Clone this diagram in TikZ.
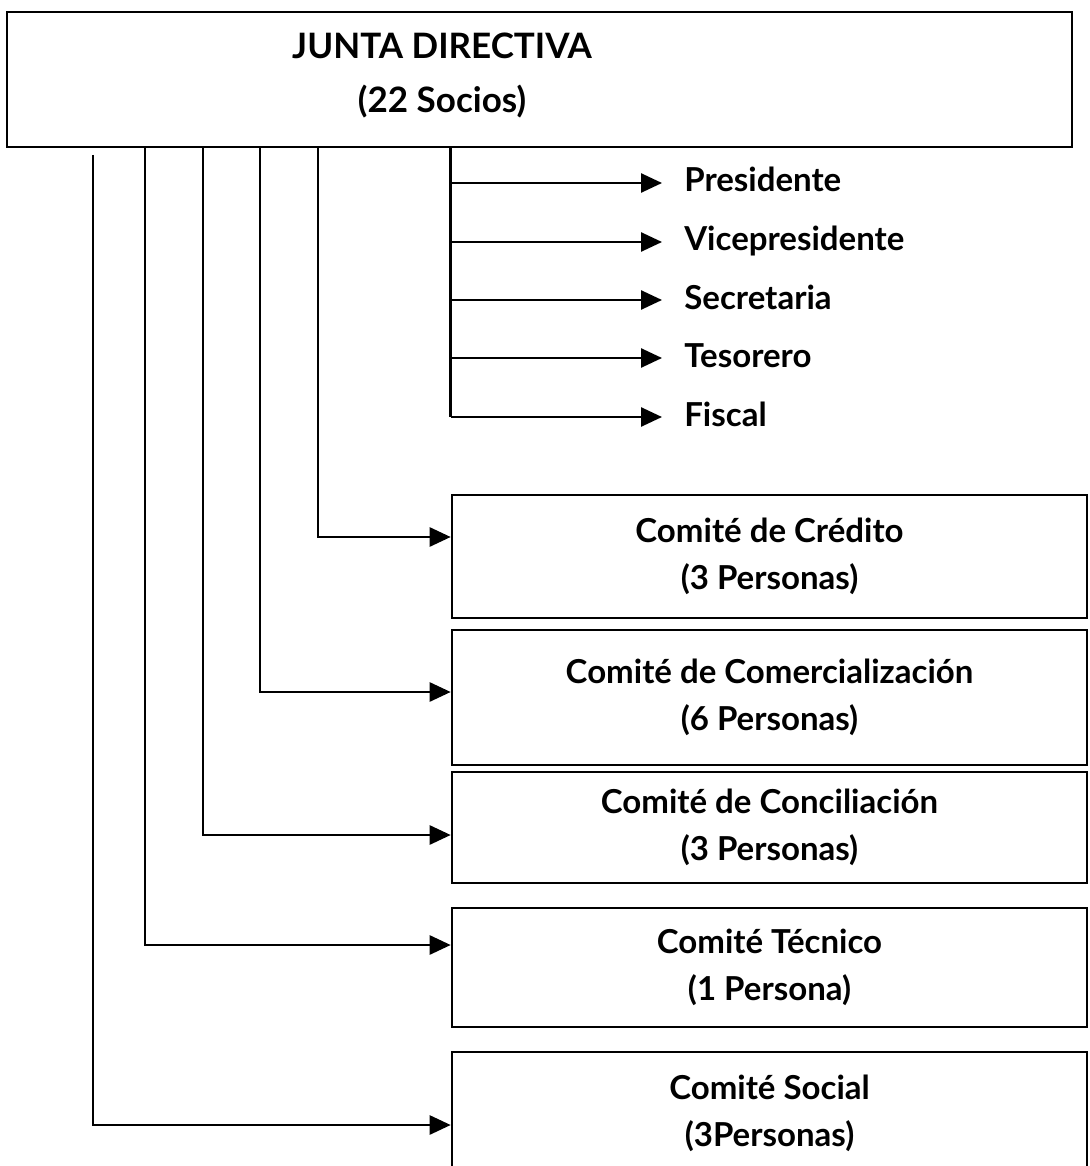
\documentclass[tikz,border=0pt]{standalone}
\usepackage{fontspec}
\setmainfont{Lato}
\usepackage{tikz}
\usetikzlibrary{arrows.meta,positioning}
\newcommand\boxfont{\bfseries\fontsize{33}{47}\selectfont}
\tikzset{
  comite/.style={draw, minimum width=635pt, inner sep=0pt, align=center, font=\boxfont},
  cargo/.style={anchor=west, inner xsep=21pt, inner ysep=0pt, text height=24pt, text depth=6pt, font=\boxfont},
  arr/.style={-{Triangle[length=21pt,width=19pt]}}
}

\begin{document}
\begin{tikzpicture}[x=1pt,y=-1pt,line width=2.6pt]
  \useasboundingbox (0,0) rectangle (1089,1166);
  \clip (0,0) rectangle (1089,1166);
  % board
  \node[draw, minimum width=1065pt, minimum height=135pt, inner sep=0pt] (jd) at (539.5,79.5) {};
  \node[align=center, font=\bfseries\fontsize{35}{54}\selectfont] (jdtxt) at (442,75) {JUNTA DIRECTIVA\\(22 Socios)};
  % officers
  \node[cargo] (pres) at (662,183) {Presidente};
  \node[cargo] (vice) at (662,242) {Vicepresidente};
  \node[cargo] (secr) at (662,300) {Secretaria};
  \node[cargo] (teso) at (662,358) {Tesorero};
  \node[cargo] (fisc) at (662,417) {Fiscal};
  % committees
  \node[comite, minimum height=123pt] (cred) at (769.5,556.5) {Comité de Crédito\\(3 Personas)};
  \node[comite, minimum height=135pt] (come) at (769.5,697.5) {Comité de Comercialización\\(6 Personas)};
  \node[comite, minimum height=111pt] (conc) at (769.5,827.5) {Comité de Conciliación\\(3 Personas)};
  \node[comite, minimum height=119pt] (tecn) at (769.5,967.5) {Comité Técnico\\(1 Persona)};
  \node[comite, minimum height=122pt] (soci) at (769.5,1113) {Comité Social\\(3Personas)};
  % officer branch
  \draw (jd.south -| cred.west) -- (fisc.west -| cred.west);
  \foreach \o in {pres,vice,secr,teso,fisc}
    \draw[arr] (\o.west -| cred.west) -- (\o.west);
  % committee branches
  \coordinate (k1) at (318,147);
  \coordinate (k2) at (260,147);
  \coordinate (k3) at (203,147);
  \coordinate (k4) at (145,147);
  \coordinate (k5) at (93,155);
  \draw[arr] (k1) |- ([yshift=19.5pt]cred.west);
  \draw[arr] (k2) |- ([yshift=5.5pt]come.west);
  \draw[arr] (k3) |- ([yshift=-7.5pt]conc.west);
  \draw[arr] (k4) |- ([yshift=22.5pt]tecn.west);
  \draw[arr] (k5) |- ([yshift=-12pt]soci.west);
\end{tikzpicture}
\end{document}
